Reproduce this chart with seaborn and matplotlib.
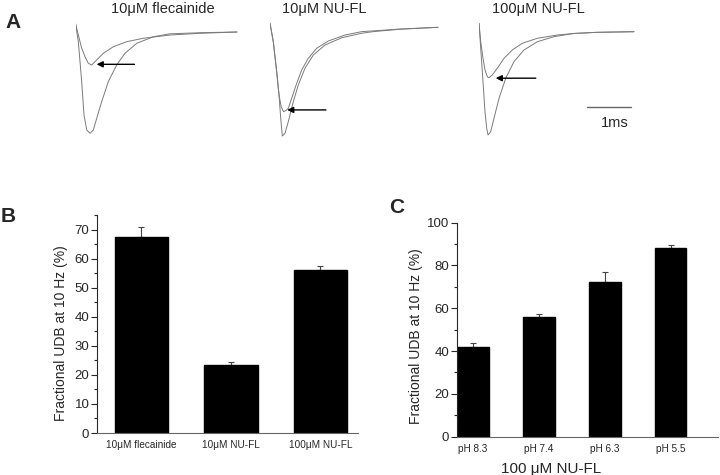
import numpy as np
import pandas as pd
import matplotlib
matplotlib.use("Agg")
import matplotlib.pyplot as plt
import seaborn as sns

# ---- Panel A: Na current traces (time in ms, normalised current) ----
# 10 uM flecainide
fle_ctrl_t = [0, 0.064, 0.141, 0.193, 0.255, 0.330, 0.405, 0.482, 0.595, 0.745, 0.936, 1.125, 1.391, 1.768, 2.148, 2.830, 3.670]
fle_ctrl_i = [0.086, -0.096, -0.492, -0.822, -0.970, -1.003, -0.970, -0.855, -0.690, -0.492, -0.327, -0.211, -0.112, -0.047, -0.018, -0.007, 0.0]
fle_drug_t = [0, 0.064, 0.141, 0.216, 0.291, 0.368, 0.482, 0.632, 0.859, 1.164, 1.541, 2.148, 2.830, 3.670]
fle_drug_i = [0.086, -0.030, -0.161, -0.244, -0.310, -0.327, -0.277, -0.211, -0.146, -0.096, -0.062, -0.030, -0.013, 0.0]

# 10 uM NU-FL
nu10_ctrl_t = [0, 0.075, 0.152, 0.205, 0.243, 0.280, 0.341, 0.416, 0.530, 0.643, 0.795, 0.984, 1.250, 1.630, 2.084, 2.341, 2.955, 3.818]
nu10_ctrl_i = [0.037, -0.133, -0.408, -0.623, -0.834, -1.000, -0.975, -0.868, -0.684, -0.531, -0.377, -0.255, -0.163, -0.096, -0.055, -0.040, -0.018, 0.0]
nu10_drug_t = [0, 0.075, 0.152, 0.205, 0.257, 0.307, 0.364, 0.416, 0.493, 0.607, 0.720, 0.870, 1.061, 1.325, 1.705, 2.084, 2.955, 3.818]
nu10_drug_i = [0.037, -0.133, -0.408, -0.623, -0.733, -0.776, -0.765, -0.745, -0.653, -0.515, -0.393, -0.285, -0.193, -0.126, -0.071, -0.040, -0.016, 0.0]

# 100 uM NU-FL
nu100_ctrl_t = [0, 0.039, 0.091, 0.136, 0.175, 0.205, 0.266, 0.341, 0.455, 0.607, 0.795, 1.023, 1.325, 1.705, 2.159, 2.682, 3.523]
nu100_ctrl_i = [0.081, -0.161, -0.484, -0.774, -0.935, -1.000, -0.968, -0.838, -0.645, -0.451, -0.290, -0.177, -0.097, -0.048, -0.017, -0.006, 0.0]
nu100_drug_t = [0, 0.039, 0.091, 0.136, 0.189, 0.227, 0.302, 0.416, 0.568, 0.757, 0.984, 1.325, 1.780, 2.159, 2.682, 3.523]
nu100_drug_i = [0.081, -0.097, -0.258, -0.371, -0.436, -0.445, -0.419, -0.354, -0.258, -0.177, -0.112, -0.064, -0.032, -0.017, -0.006, 0.0]

trace_titles = ["10μM flecainide", "10μM NU-FL", "100μM NU-FL"]
# arrow tip / tail in (ms, current)
arrow_tips = [(0.48, -0.32), (0.39, -0.76), (0.38, -0.45)]
arrow_tails = [(1.34, -0.32), (1.27, -0.76), (1.29, -0.45)]

# ---- Panel B ----
b_labels = ["10μM flecainide", "10μM NU-FL", "100μM NU-FL"]
b_values = [67.3, 23.3, 56.0]
b_errors = [3.6, 1.1, 1.4]

# ---- Panel C ----
c_labels = ["pH 8.3", "pH 7.4", "pH 6.3", "pH 5.5"]
c_values = [42.1, 56.0, 72.1, 88.0]
c_errors = [1.8, 1.3, 5.0, 1.5]

sns.set_style("ticks")
plt.rcParams["font.family"] = ["Liberation Sans", "DejaVu Sans"]

W, H = 720, 475
fig = plt.figure(figsize=(W / 100, H / 100), dpi=100)


def px_rect(left, top, right, bottom):
    return [left / W, 1 - bottom / H, (right - left) / W, (bottom - top) / H]


# trace axes: (start x px, baseline y px, px per unit current)
trace_geo = [(75.5, 32.0, 101.0), (270.0, 27.3, 108.7), (479.0, 31.7, 103.3)]
traces = [
    ((fle_ctrl_t, fle_ctrl_i), (fle_drug_t, fle_drug_i)),
    ((nu10_ctrl_t, nu10_ctrl_i), (nu10_drug_t, nu10_drug_i)),
    ((nu100_ctrl_t, nu100_ctrl_i), (nu100_drug_t, nu100_drug_i)),
]
title_x = [162.5, 324, 538]
ms_px = 44.0
trace_axes = []
for k, (x0, base, scale) in enumerate(trace_geo):
    ax = fig.add_axes(px_rect(x0, base - 0.2 * scale, x0 + 4 * ms_px, base + 1.2 * scale))
    ax.set_xlim(0, 4)
    ax.set_ylim(-1.2, 0.2)
    ax.axis("off")
    for tt, ii in traces[k]:
        df = pd.DataFrame({"t": tt, "i": ii})
        sns.lineplot(data=df, x="t", y="i", ax=ax, color="#7a7a7a", lw=0.7, sort=False)
    ax.annotate("", xy=arrow_tips[k], xytext=arrow_tails[k],
                arrowprops=dict(arrowstyle="-|>", color="black", lw=1.0,
                                mutation_scale=9, shrinkA=0, shrinkB=0))
    fig.text(title_x[k] / W, 1 - 9 / H, trace_titles[k], ha="center", va="center", fontsize=10.5)
    trace_axes.append(ax)

# 1 ms scale bar
ax3 = trace_axes[2]
ax3.plot([2.45, 3.45], [-0.729, -0.729], color="#666666", lw=1.0)
ax3.text(3.08, -0.879, "1ms", ha="center", va="center", fontsize=10.5)

# ---- bar panels ----
def bar_panel(rect, labels, values, errors, width, xlim, ylim, major, minor, label_xy):
    ax = fig.add_axes(rect)
    df = pd.DataFrame({"cond": labels, "val": values})
    sns.barplot(data=df, x="cond", y="val", color="black", width=width,
                edgecolor="black", saturation=1, ax=ax, zorder=2)
    ax.errorbar(range(len(values)), values,
                yerr=[np.zeros(len(values)), errors], fmt="none",
                ecolor="#444444", elinewidth=0.8, capsize=2.5, capthick=0.8, zorder=1)
    ax.set_xlim(*xlim)
    ax.set_ylim(*ylim)
    ax.set_yticks(np.arange(ylim[0], ylim[1] + 0.1, major))
    ax.set_yticks(np.arange(ylim[0], ylim[1] + 0.1, minor), minor=True)
    ax.tick_params(axis="y", which="major", length=4, width=0.8, labelsize=9.5, direction="out", pad=1.5)
    ax.tick_params(axis="y", which="minor", length=2.5, width=0.8, direction="out")
    ax.tick_params(axis="x", length=0, labelsize=7.2, pad=5)
    sns.despine(ax=ax)
    ax.spines["left"].set_linewidth(0.8)
    ax.spines["bottom"].set_linewidth(0.8)
    ax.spines["bottom"].set_color("#666666")
    ax.set_xlabel("")
    ax.set_ylabel("Fractional UDB at 10 Hz (%)", fontsize=10)
    ax.yaxis.set_label_coords(*label_xy)
    return ax

axB = bar_panel(px_rect(97, 215, 358, 433), b_labels, b_values, b_errors,
                0.6, (-0.497, 2.42), (0, 75), 10, 5, (-0.111, 0.459))
axC = bar_panel(px_rect(456.7, 222.7, 718, 436.7), c_labels, c_values, c_errors,
                0.48, (-0.25, 3.72), (0, 100), 20, 10, (-0.129, 0.468))
axC.set_xlabel("100 μM NU-FL", fontsize=11)
axC.xaxis.set_label_coords(0.361, -0.118)

# panel letters
fig.text(13.5 / W, 1 - 22 / H, "A", fontsize=15, fontweight="bold", ha="center", va="center")
fig.text(8 / W, 1 - 216 / H, "B", fontsize=15, fontweight="bold", ha="center", va="center")
fig.text(396.5 / W, 1 - 207.5 / H, "C", fontsize=15, fontweight="bold", ha="center", va="center")

fig.savefig("out.png", dpi=100)
